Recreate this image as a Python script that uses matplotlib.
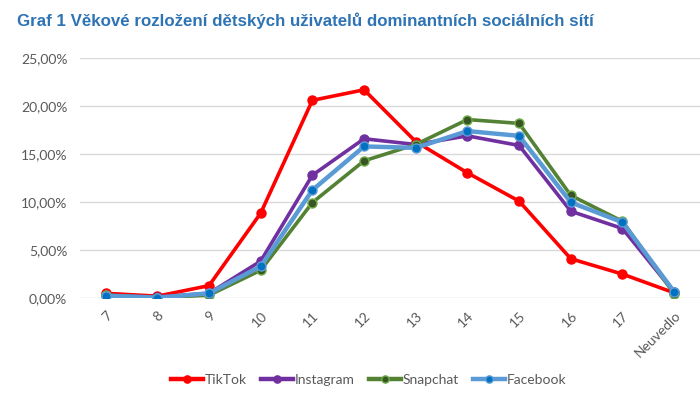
import matplotlib
matplotlib.use("Agg")
import matplotlib.pyplot as plt
from matplotlib.ticker import FuncFormatter

# ── Data ───────────────────────────────────────────────────────────────────────
ages = ["7", "8", "9", "10", "11", "12", "13", "14", "15", "16", "17", "Neuvedlo"]

tiktok    = [0.50, 0.20, 1.30, 8.85, 20.6, 21.7, 16.3, 13.05, 10.1, 4.10, 2.50, 0.55]
instagram = [0.30, 0.10, 0.50, 3.85, 12.8, 16.6, 16.0, 16.9, 15.9, 9.05, 7.25, 0.60]
snapchat  = [0.30, 0.05, 0.30, 2.90, 9.95, 14.3, 16.0, 18.6, 18.2, 10.7, 8.00, 0.45]
facebook  = [0.25, 0.05, 0.50, 3.30, 11.25, 15.8, 15.65, 17.4, 16.9, 9.97, 7.90, 0.66]

title = "Graf 1 Věkové rozložení dětských uživatelů dominantních sociálních sítí"

# ── Styles ─────────────────────────────────────────────────────────────────────
styles = [
    ("TikTok",    tiktok,    dict(color="#FF0000", lw=2.6, mfc="#FF0000", mec="#FF0000")),
    ("Instagram", instagram, dict(color="#7030A0", lw=2.6, mfc="#7030A0", mec="#7030A0")),
    ("Snapchat",  snapchat,  dict(color="#548235", lw=2.6, mfc="#375623", mec="#70AD47")),
    ("Facebook",  facebook,  dict(color="#5B9BD5", lw=3.2, mfc="#0070C0", mec="#5B9BD5")),
]

GRAY = "#595959"
plt.rcParams["font.family"] = ["Lato", "DejaVu Sans"]

fig = plt.figure(figsize=(7.0, 3.98), dpi=100)
ax = fig.add_axes([0.114, 0.251, 0.886, 0.603])

x = list(range(len(ages)))
for name, vals, st in styles:
    ax.plot(x, vals, marker="o", markersize=6.5, markeredgewidth=1.0,
            label=name, zorder=3, **st)

ax.set_xlim(-0.5, len(ages) - 0.5)
ax.set_ylim(0, 25)
ax.set_yticks([0, 5, 10, 15, 20, 25])
ax.yaxis.set_major_formatter(FuncFormatter(lambda v, p: f"{v:.2f}%".replace(".", ",")))
ax.set_xticks(x)
ax.set_xticklabels(ages, rotation=45, ha="right", rotation_mode="anchor")

ax.grid(True, axis="y", color="#D9D9D9", linewidth=1.0)
ax.set_axisbelow(True)
for s in ax.spines.values():
    s.set_visible(False)
ax.tick_params(axis="both", length=0, labelsize=10, colors=GRAY)
ax.tick_params(axis="y", pad=9)
ax.tick_params(axis="x", pad=8)

fig.text(0.024, 0.947, title, fontsize=12.2, fontweight="bold", color="#2E74B5",
         family=["Liberation Sans", "DejaVu Sans"], va="center", ha="left")

leg = fig.legend(loc="center", bbox_to_anchor=(0.527, 0.045), ncol=4, frameon=False,
                 fontsize=10, handlelength=2.3, handletextpad=0.15, columnspacing=1.0,
                 markerscale=0.8)
for t in leg.get_texts():
    t.set_color(GRAY)
for h in leg.legend_handles:
    h.set_linewidth(3.2)

fig.savefig("out.png", dpi=100)
